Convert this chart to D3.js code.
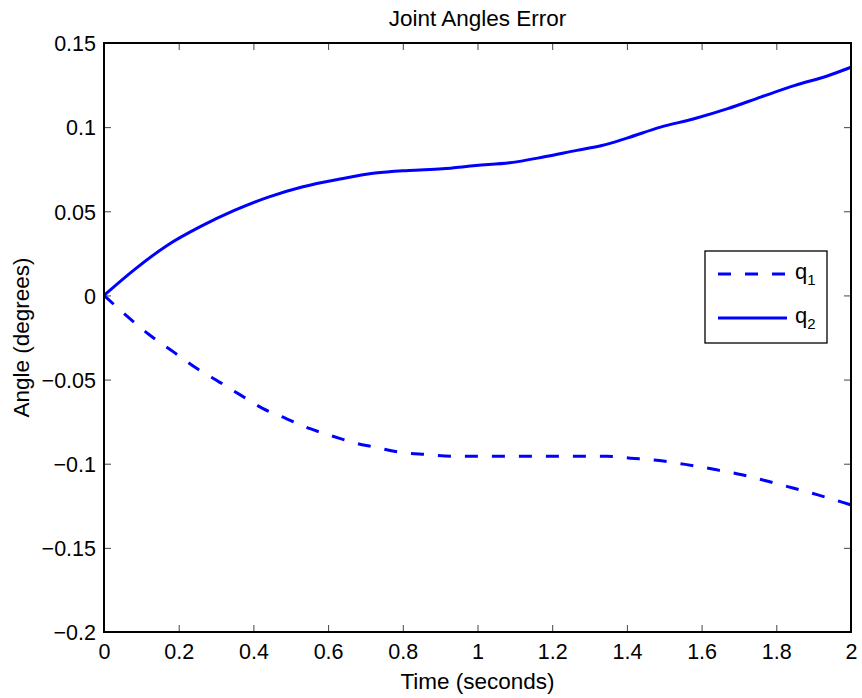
<!DOCTYPE html>
<html><head><meta charset="utf-8">
<script src="https://cdn.jsdelivr.net/npm/d3@7"></script>
<style>body{margin:0;background:#fff}svg{display:block;font-family:"Liberation Sans",Arial,sans-serif}</style>
</head><body>
<svg id="c" width="862" height="698"></svg>
<script>
const q1T = [0,0.07,0.124,0.187,0.25,0.309,0.367,0.426,0.489,0.552,0.633,0.665,0.723,0.79,0.862,0.934,1.095,1.292,1.346,1.409,1.48,1.556,1.64,1.708,1.775,1.842,1.909,1.976,2.0];
const q1V = [0,-0.0139,-0.0238,-0.0337,-0.0436,-0.0515,-0.0594,-0.0673,-0.0733,-0.0792,-0.0851,-0.0873,-0.0901,-0.0931,-0.0945,-0.0955,-0.0955,-0.0955,-0.0955,-0.0967,-0.098,-0.1004,-0.1036,-0.1066,-0.1103,-0.1143,-0.1184,-0.1228,-0.1245];
const q2T = [0,0.079,0.169,0.259,0.349,0.44,0.53,0.636,0.726,0.816,0.906,0.996,1.086,1.176,1.266,1.333,1.4,1.49,1.58,1.67,1.76,1.85,1.94,2.0];
const q2V = [0,0.0149,0.0297,0.041,0.0505,0.0584,0.0644,0.0693,0.0727,0.0743,0.0753,0.0772,0.0788,0.0822,0.0862,0.0891,0.0935,0.1,0.105,0.111,0.118,0.1248,0.1307,0.1356];
const xTicks = [0,0.2,0.4,0.6,0.8,1,1.2,1.4,1.6,1.8,2];
const yTicks = [-0.2,-0.15,-0.1,-0.05,0,0.05,0.1,0.15];
const seriesNames = ["1","2"];

const svg = d3.select("#c");
const L=104,R=851,T=43,B=632;
const FS = 21.5;
const x = d3.scaleLinear().domain([0,2]).range([L,R]);
const y = d3.scaleLinear().domain([-0.2,0.15]).range([B,T]);
const fmt = d => d===0 ? "0" : String(d).replace("-", "\u2212");

const tl = 7;
const gb = svg.append("g").attr("transform",`translate(0,${B})`)
  .call(d3.axisBottom(x).tickValues(xTicks).tickSize(-tl).tickPadding(12).tickFormat(fmt));
const gt = svg.append("g").attr("transform",`translate(0,${T})`)
  .call(d3.axisTop(x).tickValues(xTicks).tickSize(-tl).tickFormat(""));
const gl = svg.append("g").attr("transform",`translate(${L},0)`)
  .call(d3.axisLeft(y).tickValues(yTicks).tickSize(-tl).tickPadding(8).tickFormat(fmt));
const gr = svg.append("g").attr("transform",`translate(${R},0)`)
  .call(d3.axisRight(y).tickValues(yTicks).tickSize(-tl).tickFormat(""));
[gb,gt,gl,gr].forEach(g=>{
  g.attr("font-size",FS).attr("font-family","Liberation Sans, Arial, sans-serif");
  g.select(".domain").remove();
  g.selectAll(".tick line").attr("stroke","#444").attr("stroke-width",1);
  g.selectAll("text").attr("font-size",FS).attr("fill","#000");
});
gl.selectAll(".tick text").attr("dy","0.36em");

const d1 = q1T.map((t,i)=>[t,q1V[i]]);
const d2 = q2T.map((t,i)=>[t,q2V[i]]);
const curve = d3.line().x(d=>x(d[0])).y(d=>y(d[1])).curve(d3.curveMonotoneX);
svg.append("path").attr("d",curve(d2)).attr("fill","none").attr("stroke","#0000ff").attr("stroke-width",3);
svg.append("path").attr("d",curve(d1)).attr("fill","none").attr("stroke","#0000ff").attr("stroke-width",3).attr("stroke-dasharray","13,14");

svg.append("rect").attr("x",L).attr("y",T).attr("width",R-L).attr("height",B-T)
  .attr("fill","none").attr("stroke","#000").attr("stroke-width",2);

svg.append("text").attr("x",(L+R)/2).attr("y",26).attr("text-anchor","middle")
  .attr("font-size",22.5).text("Joint Angles Error");
svg.append("text").attr("x",(L+R)/2).attr("y",689).attr("text-anchor","middle")
  .attr("font-size",22.5).text("Time (seconds)");
svg.append("text").attr("transform",`translate(29,${(T+B)/2}) rotate(-90)`).attr("text-anchor","middle")
  .attr("font-size",22.5).text("Angle (degrees)");

const lg = svg.append("g");
lg.append("rect").attr("x",705).attr("y",251).attr("width",122).attr("height",92)
  .attr("fill","#fff").attr("stroke","#000").attr("stroke-width",1.3);
const ly = [274,318];
seriesNames.forEach((n,i)=>{
  lg.append("line").attr("x1",718).attr("x2",787).attr("y1",ly[i]).attr("y2",ly[i])
    .attr("stroke","#0000ff").attr("stroke-width",3).attr("stroke-dasharray",i===0?"13,14":null);
  const t = lg.append("text").attr("x",795).attr("y",ly[i]+5).attr("font-size",22);
  t.append("tspan").text("q");
  t.append("tspan").attr("dy",6).attr("font-size",15).text(n);
});
</script>
</body></html>
